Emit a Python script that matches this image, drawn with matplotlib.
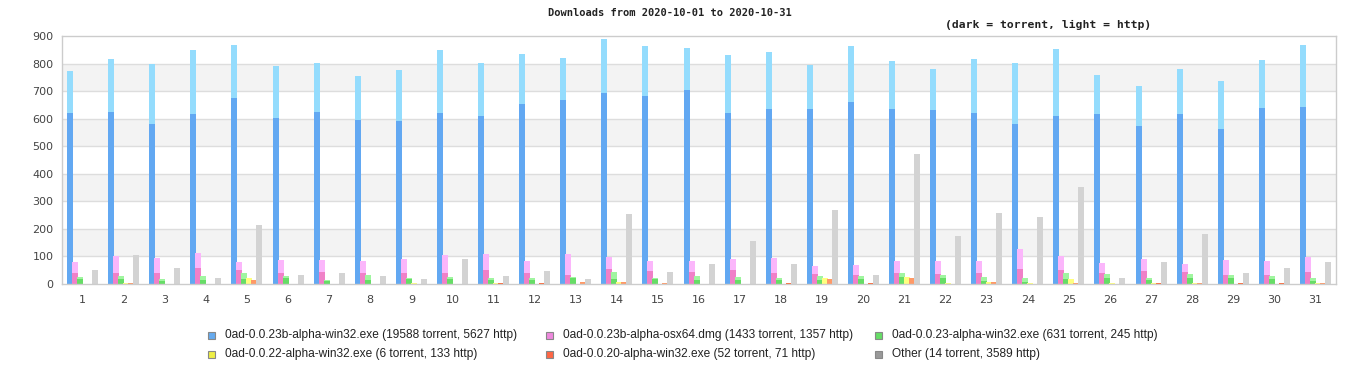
import matplotlib
matplotlib.use("Agg")
import matplotlib.pyplot as plt
import numpy as np
from matplotlib.patches import Rectangle

days = [str(d) for d in range(1, 32)]

blue_torrent = [622, 625, 582, 618, 676, 604, 625, 596, 593, 622, 611, 654, 669, 694, 683, 705,
                622, 636, 636, 661, 636, 633, 622, 582, 611, 618, 575, 618, 564, 640, 643]
blue_http = [151, 192, 217, 231, 191, 188, 177, 159, 184, 227, 191, 181, 151, 195, 181, 152,
             209, 206, 159, 203, 174, 148, 195, 220, 242, 141, 144, 163, 173, 173, 224]

pink_torrent = [40, 40, 40, 58, 51, 40, 43, 40, 40, 40, 51, 40, 33, 54, 47, 43,
                51, 40, 36, 33, 40, 36, 40, 54, 51, 40, 47, 43, 33, 33, 43]
pink_http = [40, 61, 54, 54, 29, 47, 44, 43, 50, 65, 57, 43, 75, 44, 36, 40,
             39, 54, 29, 36, 43, 47, 43, 73, 50, 36, 43, 29, 54, 50, 55]

green_torrent = [18, 18, 11, 14, 18, 22, 11, 14, 18, 18, 14, 14, 22, 18, 18, 14,
                 14, 14, 14, 18, 25, 22, 11, 7, 18, 22, 14, 22, 22, 18, 11]
green_http = [7, 11, 7, 15, 22, 7, 3, 19, 4, 7, 8, 8, 3, 25, 4, 15,
              11, 8, 15, 11, 15, 11, 14, 15, 22, 14, 8, 14, 11, 11, 11]

yellow_torrent = [0] * 31
yellow_http = [0, 4, 0, 0, 22, 0, 0, 0, 4, 0, 4, 0, 0, 7, 0, 0,
               0, 0, 22, 0, 25, 4, 7, 4, 18, 4, 4, 4, 0, 0, 4]

orange_torrent = [0, 0, 0, 0, 0, 0, 0, 0, 0, 0, 4, 4, 0, 0, 0, 0,
                  0, 4, 0, 4, 0, 0, 0, 0, 0, 0, 4, 0, 4, 4, 0]
orange_http = [0, 4, 0, 0, 14, 0, 0, 0, 0, 0, 0, 0, 7, 7, 4, 0,
               0, 0, 18, 0, 22, 0, 7, 0, 4, 0, 0, 4, 0, 0, 4]

other_torrent = [0] * 31
other_http = [51, 105, 58, 22, 213, 33, 40, 29, 18, 90, 29, 47, 18, 253, 43, 72,
              155, 72, 267, 33, 473, 173, 257, 242, 351, 22, 80, 181, 40, 58, 80]

labels = ["0ad-0.0.23b-alpha-win32.exe (19588 torrent, 5627 http)",
          "0ad-0.0.23b-alpha-osx64.dmg (1433 torrent, 1357 http)",
          "0ad-0.0.23-alpha-win32.exe (631 torrent, 245 http)",
          "0ad-0.0.22-alpha-win32.exe (6 torrent, 133 http)",
          "0ad-0.0.20-alpha-win32.exe (52 torrent, 71 http)",
          "Other (14 torrent, 3589 http)"]

series = [(blue_torrent, blue_http), (pink_torrent, pink_http), (green_torrent, green_http),
          (yellow_torrent, yellow_http), (orange_torrent, orange_http), (other_torrent, other_http)]
dark = ["#62a8f2", "#f080c8", "#66dd66", "#eeee55", "#ff6633", "#c8c8c8"]
light = ["#94dcfd", "#fbb6fb", "#a0f5a0", "#ffff80", "#ff9966", "#d3d3d3"]
legend_col = ["#66aaee", "#ee88dd", "#66dd66", "#eeee44", "#ff6644", "#999999"]

W, H = 1366, 380
fig = plt.figure(figsize=(W / 100, H / 100), dpi=100)
L, R, T, B = 62, 1336, 36, 284
ax = fig.add_axes([L / W, 1 - B / H, (R - L) / W, (B - T) / H])

x = np.arange(1, 32)
px = 31.0 / (R - L)  # data units per pixel
step = 5.0 * px
width = 6.0 * px

ax.set_xlim(0.5, 31.5)
ax.set_ylim(0, 900)
for lo in (100, 300, 500, 700):
    ax.axhspan(lo, lo + 100, color="#f3f3f3", zorder=0, lw=0)
for yv in range(100, 900, 100):
    ax.axhline(yv, color="#dddddd", lw=1, zorder=0.5)

for k, (tor, htp) in enumerate(series):
    pos = x + (k - 2.5) * step
    tor = np.array(tor)
    htp = np.array(htp)
    ax.bar(pos, tor, width=width, color=dark[k], lw=0, zorder=2)
    ax.bar(pos, htp, width=width, bottom=tor, color=light[k], lw=0, zorder=2)

ax.set_xticks(x)
ax.set_xticklabels(days)
ax.set_yticks(range(0, 901, 100))
ax.tick_params(axis="both", length=0, labelsize=8, colors="#444444", pad=6)
ax.tick_params(axis="x", pad=8)
for s in ax.spines.values():
    s.set_color("#cccccc")
    s.set_linewidth(1)

fig.text(670 / W, 1 - 13 / H, "Downloads from 2020-10-01 to 2020-10-31", ha="center", va="center",
         family="DejaVu Sans Mono", weight="bold", fontsize=7.5, color="#222222")
fig.text(1048 / W, 1 - 25 / H, "(dark = torrent, light = http)", ha="center", va="center",
         family="DejaVu Sans Mono", weight="bold", fontsize=8.2, color="#222222")

mx = [211, 549, 878]
my = [335, 354]
for i, lab in enumerate(labels):
    r, c = divmod(i, 3)
    cx, cy = mx[c], my[r]
    fig.patches.append(Rectangle(((cx - 3.5) / W, 1 - (cy + 3.5) / H), 7 / W, 7 / H,
                                 transform=fig.transFigure, facecolor=legend_col[i],
                                 edgecolor="#888888", lw=0.8))
    fig.text((cx + 14) / W, 1 - cy / H, lab, ha="left", va="center",
             family="Liberation Sans", fontsize=8.6, color="#222222")

fig.savefig("out.png", dpi=100)
